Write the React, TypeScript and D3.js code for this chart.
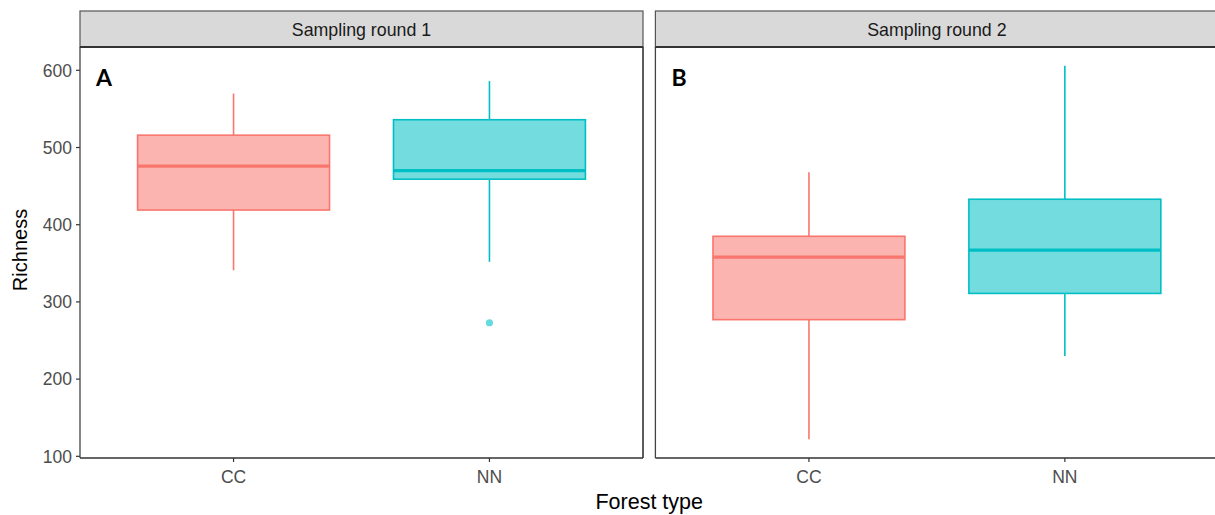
import React from 'react';
import * as d3 from 'd3';

// data
const rounds = ['Sampling round 1', 'Sampling round 2'];
const panelTags = ['A', 'B'];
const forestTypes = ['CC', 'NN'];
const lowerWhisker = [[341, 352], [122, 230]];
const q1 = [[419, 459], [277, 311]];
const medians = [[476, 470], [358, 367]];
const q3 = [[516, 536], [385, 433]];
const upperWhisker = [[570, 586], [468, 606]];
const outliers = [[[], [273]], [[], []]];
const yTicks = [100, 200, 300, 400, 500, 600];

const strokeColors = ['#F8766D', '#00BFC4'];

const W = 1215;
const H = 515;
const panelW = 563;
const panelLefts = [80, 655.4];
const stripTop = 11;
const panelTop = 47;
const panelBottom = 458;

const allVals = [...lowerWhisker.flat(), ...upperWhisker.flat(), ...outliers.flat(2)];
const vMin = d3.min(allVals) as number;
const vMax = d3.max(allVals) as number;
const pad = (vMax - vMin) * 0.05;

const y = d3.scaleLinear().domain([vMin - pad, vMax + pad]).range([panelBottom, panelTop]);

const App: React.FC = () => {
  return (
    <svg
      width={W}
      height={H}
      style={{ position: 'fixed', left: 0, top: 0, background: '#fff' }}
      fontFamily="'Liberation Sans', Arial, sans-serif"
    >
      {/* Y axis */}
      <g>
        {yTicks.map((t) => (
          <g key={t} transform={`translate(${panelLefts[0]},${y(t)})`}>
            <line x1={-4} x2={0} stroke="#333" strokeWidth={1.2} />
            <text x={-8} dy="0.36em" textAnchor="end" fontSize={17.5} fill="#4D4D4D">
              {t}
            </text>
          </g>
        ))}
      </g>

      {rounds.map((round, pi) => {
        const x0 = panelLefts[pi];
        const x = d3.scalePoint<string>().domain(forestTypes).range([x0, x0 + panelW]).padding(0.6);
        const bw = x.step() * 0.75;
        return (
          <g key={round}>
            {/* strip */}
            <rect
              x={x0}
              y={stripTop}
              width={panelW}
              height={panelTop - stripTop}
              fill="#D9D9D9"
              stroke="#555"
              strokeWidth={1.2}
            />
            <text
              x={x0 + panelW / 2}
              y={30}
              dy="0.36em"
              textAnchor="middle"
              fontSize={17.8}
              fill="#1A1A1A"
            >
              {round}
            </text>
            {/* panel frame */}
            <line x1={x0} x2={x0} y1={panelTop} y2={panelBottom} stroke="#444" strokeWidth={1.3} />
            <line x1={x0} x2={x0 + panelW} y1={panelBottom} y2={panelBottom} stroke="#333" strokeWidth={1.6} />
            <line x1={x0 + panelW} x2={x0 + panelW} y1={panelTop} y2={panelBottom} stroke="#333" strokeWidth={1.6} />
            <line x1={x0} x2={x0 + panelW} y1={panelTop} y2={panelTop} stroke="#333" strokeWidth={2} />

            <text x={x0 + 16} y={86} fontSize={23} fontWeight="bold" fontFamily="Lato, 'Open Sans', sans-serif" fill="#000">
              {panelTags[pi]}
            </text>

            {forestTypes.map((ft, i) => {
              const cx = x(ft) as number;
              const col = strokeColors[i];
              return (
                <g key={ft}>
                  <line x1={cx} x2={cx} y1={y(upperWhisker[pi][i])} y2={y(q3[pi][i])} stroke={col} strokeWidth={1.6} />
                  <line x1={cx} x2={cx} y1={y(q1[pi][i])} y2={y(lowerWhisker[pi][i])} stroke={col} strokeWidth={1.6} />
                  <rect
                    x={cx - bw / 2}
                    y={y(q3[pi][i])}
                    width={bw}
                    height={y(q1[pi][i]) - y(q3[pi][i])}
                    fill={col}
                    fillOpacity={0.55}
                    stroke={col}
                    strokeWidth={1.6}
                  />
                  <line
                    x1={cx - bw / 2}
                    x2={cx + bw / 2}
                    y1={y(medians[pi][i])}
                    y2={y(medians[pi][i])}
                    stroke={col}
                    strokeWidth={3.2}
                  />
                  {outliers[pi][i].map((o, k) => (
                    <circle key={k} cx={cx} cy={y(o)} r={3.6} fill={col} fillOpacity={0.6} />
                  ))}
                  {/* x tick */}
                  <line x1={cx} x2={cx} y1={panelBottom} y2={panelBottom + 4} stroke="#333" strokeWidth={1.2} />
                  <text x={cx} y={panelBottom + 25} textAnchor="middle" fontSize={17.5} fill="#4D4D4D">
                    {ft}
                  </text>
                </g>
              );
            })}
          </g>
        );
      })}

      {/* axis titles */}
      <text x={(panelLefts[0] + panelLefts[1] + panelW) / 2} y={509} textAnchor="middle" fontSize={21.5} fill="#000">
        Forest type
      </text>
      <text
        transform={`translate(27,250) rotate(-90)`}
        textAnchor="middle"
        fontSize={20}
        fill="#000"
      >
        Richness
      </text>
    </svg>
  );
};

export default App;
